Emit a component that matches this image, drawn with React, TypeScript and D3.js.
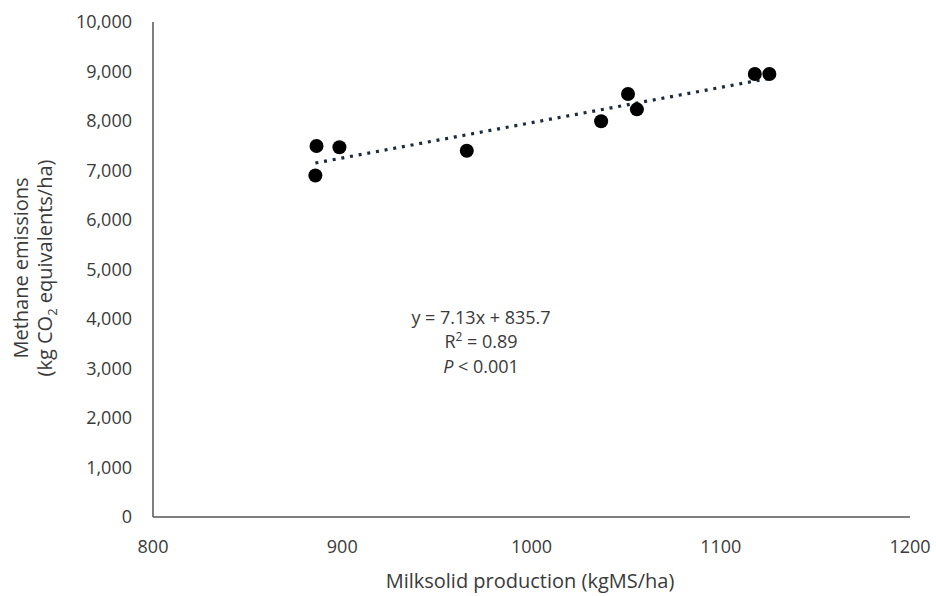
import React from "react";
import * as d3 from "d3";

const milksolid = [885.8, 886.4, 898.5, 965.8, 1036.8, 1051, 1055.7, 1118, 1125.7];
const methane = [6900, 7495, 7470, 7400, 7995, 8545, 8235, 8950, 8950];
const xTicks = [800, 900, 1000, 1100, 1200];
const yTicks = [0, 1000, 2000, 3000, 4000, 5000, 6000, 7000, 8000, 9000, 10000];
const slope = 7.13;
const intercept = 835.7;

const W = 936;
const H = 596;
const FONT = "'Open Sans', 'Noto Sans', sans-serif";
const TXT = "#3a3a3a";

export default function App() {
  const x = d3.scaleLinear().domain([800, 1200]).range([153, 910]);
  const y = d3.scaleLinear().domain([0, 10000]).range([517, 22]);
  const fmt = d3.format(",");
  const xMin = d3.min(milksolid) as number;
  const xMax = d3.max(milksolid) as number;
  const trend = d3.line<number>().x((d) => x(d)).y((d) => y(slope * d + intercept));

  return (
    <svg
      width={W}
      height={H}
      style={{ position: "absolute", left: 0, top: 0, background: "#fff" }}
      fontFamily={FONT}
    >
      <rect width={W} height={H} fill="#fff" />
      {/* axes */}
      <line x1={x(800)} x2={x(800)} y1={y(10000)} y2={y(0)} stroke="#555" strokeWidth={1.5} />
      <line x1={x(800)} x2={x(1200)} y1={y(0)} y2={y(0)} stroke="#555" strokeWidth={1.5} />
      {yTicks.map((t) => (
        <text key={t} x={132} y={y(t)} dy="0.35em" textAnchor="end" fontSize={18} fill={TXT}>
          {fmt(t)}
        </text>
      ))}
      {xTicks.map((t) => (
        <text key={t} x={x(t)} y={547} dy="0.35em" textAnchor="middle" fontSize={18} fill={TXT}>
          {t}
        </text>
      ))}
      {/* trendline */}
      <path
        d={trend([xMin, xMax]) || ""}
        fill="none"
        stroke="#1c2a3a"
        strokeWidth={3.2}
        strokeDasharray="3 5.8"
      />
      {milksolid.map((v, i) => (
        <circle key={i} cx={x(v)} cy={y(methane[i])} r={7} fill="#000" />
      ))}
      {/* annotation */}
      <text x={481} y={318} dy="0.35em" textAnchor="middle" fontSize={18} fill={TXT}>
        y = 7.13x + 835.7
      </text>
      <text x={481} y={342} dy="0.35em" textAnchor="middle" fontSize={18} fill={TXT}>
        R<tspan dy="-7" fontSize={12}>2</tspan>
        <tspan dy="7"> = 0.89</tspan>
      </text>
      <text x={481} y={367} dy="0.35em" textAnchor="middle" fontSize={18} fill={TXT}>
        <tspan fontStyle="italic">P</tspan> &lt; 0.001
      </text>
      {/* axis titles */}
      <text x={530} y={581} dy="0.35em" textAnchor="middle" fontSize={20} fill={TXT}>
        Milksolid production (kgMS/ha)
      </text>
      <g transform="translate(21,268) rotate(-90)">
        <text x={0} y={0} dy="0.35em" textAnchor="middle" fontSize={20} fill={TXT}>
          Methane emissions
        </text>
        <text x={0} y={24} dy="0.35em" textAnchor="middle" fontSize={20} fill={TXT}>
          (kg CO<tspan dy="5" fontSize={13}>2</tspan>
          <tspan dy="-5"> equivalents/ha)</tspan>
        </text>
      </g>
    </svg>
  );
}
